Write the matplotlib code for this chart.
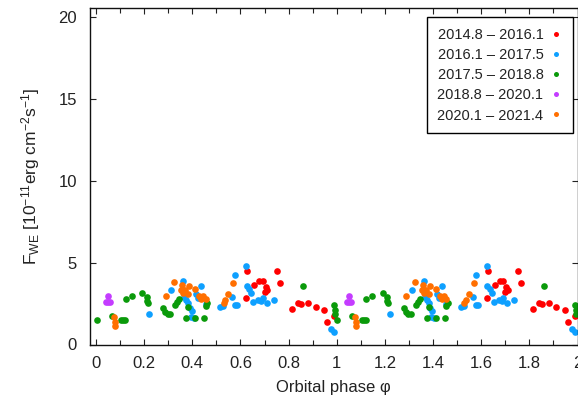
import matplotlib
matplotlib.use("Agg")
import matplotlib.pyplot as plt
from matplotlib.ticker import MultipleLocator
import numpy as np

plt.rcParams['font.family'] = ['Liberation Sans', 'DejaVu Sans']
plt.rcParams['mathtext.fontset'] = 'custom'
plt.rcParams['mathtext.rm'] = 'Liberation Sans'
plt.rcParams['mathtext.it'] = 'Liberation Sans:italic'

labels = ["2014.8 – 2016.1", "2016.1 – 2017.5", "2017.5 – 2018.8",
          "2018.8 – 2020.1", "2020.1 – 2021.4"]
colors = ["#ff0000", "#0ea0ff", "#0a9a0a", "#c43cff", "#ff6f00"]

red_phase = [0.624, 0.629, 0.658, 0.676, 0.692, 0.704, 0.712, 0.700, 0.751, 0.765,
             0.816, 0.841, 0.853, 0.881, 0.912, 0.949, 0.960, 0.990]
red_flux = [2.82, 4.48, 3.64, 3.90, 3.86, 3.50, 3.30, 3.20, 4.46, 3.78,
            2.15, 2.53, 2.45, 2.51, 2.31, 2.08, 1.36, 1.72]

blue_phase = [0.222, 0.312, 0.363, 0.366, 0.374, 0.382, 0.389, 0.397, 0.393, 0.405,
              0.415, 0.423, 0.438, 0.455, 0.517, 0.528, 0.566, 0.577, 0.586, 0.578,
              0.625, 0.626, 0.635, 0.645, 0.654, 0.674, 0.685, 0.692, 0.709, 0.738,
              0.978, 0.990]
blue_flux = [1.88, 3.33, 3.85, 2.91, 2.73, 2.53, 2.22, 2.02, 1.70, 1.60,
             3.10, 2.87, 3.55, 2.45, 2.32, 2.38, 2.93, 2.42, 2.42, 4.22,
             4.82, 3.55, 3.38, 3.15, 2.57, 2.70, 2.63, 2.83, 2.53, 2.73,
             0.95, 0.75]

green_phase = [0.002, 0.065, 0.103, 0.112, 0.120, 0.123, 0.148, 0.190, 0.210, 0.210,
               0.214, 0.280, 0.288, 0.297, 0.308, 0.328, 0.338, 0.346, 0.374, 0.382,
               0.412, 0.449, 0.455, 0.462, 0.859, 0.989, 0.992, 0.993]
green_flux = [1.48, 1.76, 1.50, 1.52, 1.52, 2.75, 2.95, 3.16, 2.92, 2.68,
              2.52, 2.22, 2.00, 1.84, 1.86, 2.42, 2.62, 2.78, 1.60, 2.26,
              1.60, 1.60, 2.38, 2.55, 3.60, 2.40, 2.12, 1.88]

purple_phase = [0.049, 0.042, 0.050, 0.058]
purple_flux = [2.98, 2.62, 2.62, 2.62]

orange_phase = [0.075, 0.078, 0.080, 0.289, 0.325, 0.357, 0.388, 0.354, 0.363, 0.371,
                0.382, 0.412, 0.428, 0.446, 0.455, 0.437, 0.530, 0.536, 0.550, 0.568]
orange_flux = [1.70, 1.35, 1.10, 2.98, 3.79, 3.62, 3.60, 3.35, 3.15, 3.35,
               3.10, 3.38, 2.94, 2.98, 2.75, 2.75, 2.52, 2.72, 3.08, 3.78]

series = [(red_phase, red_flux), (blue_phase, blue_flux), (green_phase, green_flux),
          (purple_phase, purple_flux), (orange_phase, orange_flux)]

W, H = 578, 399
fig = plt.figure(figsize=(W / 100, H / 100), dpi=100)
ax = fig.add_axes([90 / W, (H - 344.5) / H, 487.5 / W, 336.5 / H])

for (ph, fl), c, lab in zip(series, colors, labels):
    ph = np.asarray(ph)
    fl = np.asarray(fl)
    ax.plot(np.concatenate([ph, ph + 1]), np.concatenate([fl, fl]), 'o', ms=4.8,
            color=c, mec='none', label=lab)

ax.set_xlim(-0.025, 2.0)
ax.set_ylim(0, 20.55)
ax.xaxis.set_minor_locator(MultipleLocator(0.1))
ax.yaxis.set_major_locator(MultipleLocator(5))
ax.set_xticks([0, 0.2, 0.4, 0.6, 0.8, 1.0, 1.2, 1.4, 1.6, 1.8, 2.0])
ax.set_xticklabels(["0", "0.2", "0.4", "0.6", "0.8", "1", "1.2", "1.4", "1.6", "1.8", "2"])
ax.tick_params(which='both', direction='in', top=True, right=True, width=0.8,
               labelsize=12, colors='#222222')
ax.tick_params(axis='x', pad=8)
ax.tick_params(axis='y', pad=9.5)
ax.tick_params(which='major', length=4.5)
ax.tick_params(which='minor', length=3.5)
for s in ax.spines.values():
    s.set_linewidth(1.0)
    s.set_color('#111111')

ax.set_xlabel("Orbital phase φ", fontsize=12, color='#222222', labelpad=7)
ax.set_ylabel(r"$\mathrm{F_{WE}\ [10^{-11} erg\ cm^{-2} s^{-1}]}$", fontsize=12.5,
              color='#222222', labelpad=12)

leg = ax.legend(loc='upper right', bbox_to_anchor=(0.99, 0.973), borderaxespad=0,
                markerfirst=False, fontsize=10.5, frameon=True, fancybox=False,
                edgecolor='black', framealpha=1, handlelength=0.8, handletextpad=0.45,
                borderpad=0.75, labelspacing=0.42, markerscale=0.75)
leg.get_frame().set_linewidth(1.0)
for t in leg.get_texts():
    t.set_color('#222222')

fig.savefig("out.png", dpi=100)
